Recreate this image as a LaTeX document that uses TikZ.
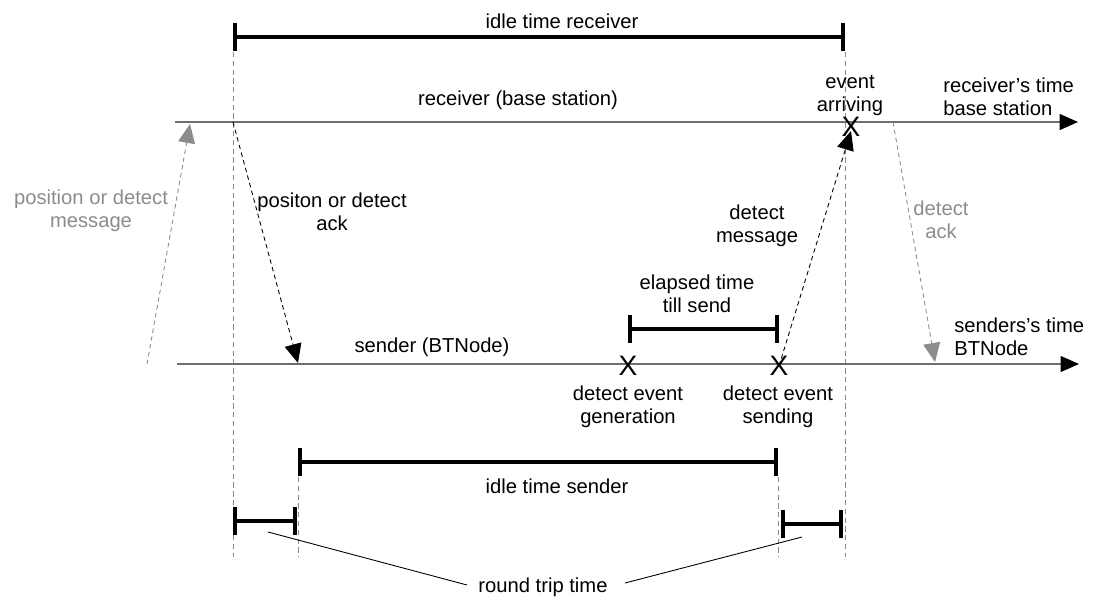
\documentclass[tikz,border=0pt]{standalone}
\usepackage{fontspec}
\setmainfont{Liberation Sans}
\usetikzlibrary{arrows.meta}
\definecolor{axis-color}{HTML}{6E6E6E}
\definecolor{guide-color}{HTML}{8A8A8A}
\definecolor{faint-color}{HTML}{8C8C8C}
\tikzset{
  time-axis/.style={
    draw=axis-color, line width=0.8pt,
    -{Triangle[length=0.37cm, width=0.32cm, color=black]}
  },
  guide/.style={draw=guide-color, line width=0.4pt, dash pattern=on 3pt off 2pt},
  message/.style={
    line width=0.5pt, dash pattern=on 2.5pt off 2pt,
    -{Triangle[length=0.38cm, width=0.34cm]}
  },
  faint-message/.style={message, draw=faint-color},
  span-bar/.style={
    line width=2pt,
    {Bar[width=0.56cm, line width=2.5pt]}-{Bar[width=0.56cm, line width=2.5pt]}
  },
  label/.style={font=\fontsize{11.5}{13.1}\selectfont, align=center, inner sep=0pt},
  faint-label/.style={label, text=faint-color},
  event-mark/.style={font=\fontsize{16}{16}\selectfont, inner sep=0pt}
}

\begin{document}
\begin{tikzpicture}[x=0.02cm, y=-0.02cm]
  \useasboundingbox (0,0) rectangle (1095,602);

  % guide lines down through the interesting instants
  \foreach \name/\gx/\gtop in {a/233/52, b/298/477, c/778/477, d/845/52} {
    \coordinate (guide-\name-top) at (\gx,\gtop);
    \coordinate (guide-\name-bot) at (\gx,557);
    \draw[guide] (guide-\name-top) -- (guide-\name-bot);
  }

  % the two time lines
  \coordinate (rx-begin) at (175,122);
  \coordinate (rx-end)   at (1078,122);
  \coordinate (tx-begin) at (177,364);
  \coordinate (tx-end)   at (1079,364);
  \draw[time-axis] (rx-begin) -- (rx-end);
  \draw[time-axis] (tx-begin) -- (tx-end);

  \node[label] (rx-name) at (518,100) {receiver (base station)};
  \node[label] (tx-name) at (432,347) {sender (BTNode)};
  \node[label, align=left, anchor=west] (rx-axis) at (943,97)  {receiver's time\\base station};
  \node[label, align=left, anchor=west] (tx-axis) at (954,337) {senders's time\\BTNode};

  % events on the time lines
  \node[event-mark] (x-arrive)   at (851,127) {X};
  \node[event-mark] (x-generate) at (628,366) {X};
  \node[event-mark] (x-send)     at (779,366) {X};
  \node[label] (arrive-text)   at (850,96)  {event\\arriving};
  \node[label] (generate-text) at (628,407) {detect event\\generation};
  \node[label] (send-text)     at (778,407) {detect event\\sending};

  % messages between receiver and sender
  \coordinate (pos-msg-from) at (147,364);
  \coordinate (pos-msg-to)   at (190,124);
  \coordinate (ack-from)     at (233,122);
  \coordinate (ack-to)       at (298,363);
  \coordinate (det-msg-to)   at (851,131);
  \coordinate (det-ack-from) at (893,122);
  \coordinate (det-ack-to)   at (935,362);
  \draw[faint-message] (pos-msg-from) -- (pos-msg-to);
  \draw[message] (ack-from) -- (ack-to);
  \draw[message] (x-send.center) -- (det-msg-to);
  \draw[faint-message] (det-ack-from) -- (det-ack-to);

  \node[faint-label] (pos-msg-text) at (91,211)  {position or detect\\message};
  \node[label]       (ack-text)     at (332,212) {positon or detect\\ack};
  \node[label]       (det-msg-text) at (757,226) {detect\\message};
  \node[faint-label] (det-ack-text) at (941,220) {detect\\ack};

  % time spans
  \coordinate (rx-idle-start) at (233,37);
  \coordinate (rx-idle-end)   at (845,37);
  \coordinate (wait-start)    at (628,329);
  \coordinate (wait-end)      at (779,329);
  \coordinate (tx-idle-start) at (298,462);
  \coordinate (tx-idle-end)   at (778,462);
  \coordinate (rtt-a-start)   at (233,521);
  \coordinate (rtt-a-end)     at (297,521);
  \coordinate (rtt-b-start)   at (781,524);
  \coordinate (rtt-b-end)     at (843,524);
  \draw[span-bar] (rx-idle-start) -- (rx-idle-end);
  \draw[span-bar] (wait-start) -- (wait-end);
  \draw[span-bar] (tx-idle-start) -- (tx-idle-end);
  \draw[span-bar] (rtt-a-start) -- (rtt-a-end);
  \draw[span-bar] (rtt-b-start) -- (rtt-b-end);

  \node[label] (rx-idle-text) at (562,21)  {idle time receiver};
  \node[label] (wait-text)    at (697,294) {elapsed time\\till send};
  \node[label] (tx-idle-text) at (557,486) {idle time sender};
  \node[label] (rtt-text)     at (543,587) {round trip time};

  % leaders from the round trip label
  \coordinate (rtt-a-tail) at (268,532);
  \coordinate (rtt-a-head) at (467,585);
  \coordinate (rtt-b-tail) at (802,537);
  \coordinate (rtt-b-head) at (625,583);
  \draw[line width=0.5pt] (rtt-a-tail) -- (rtt-a-head);
  \draw[line width=0.5pt] (rtt-b-tail) -- (rtt-b-head);
\end{tikzpicture}
\end{document}
